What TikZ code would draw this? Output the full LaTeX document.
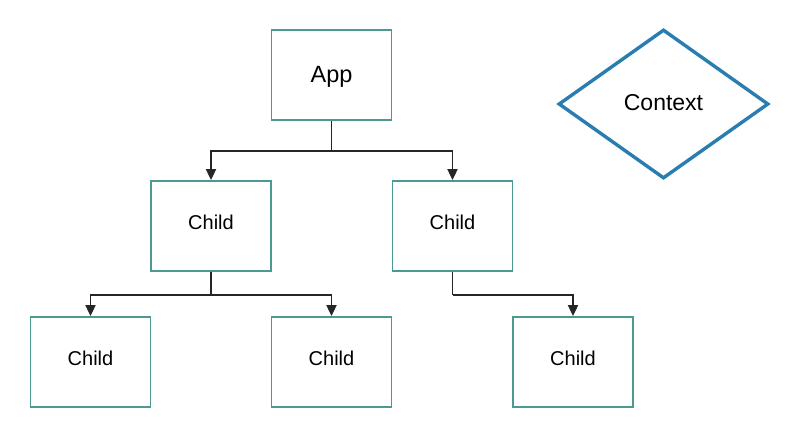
\documentclass[tikz,border=0pt]{standalone}
\usepackage{fontspec}
\setmainfont{Liberation Sans}
\usetikzlibrary{shapes.geometric,arrows.meta}
\definecolor{boxteal}{HTML}{4A9A92}
\definecolor{diablue}{HTML}{2A7DB0}
\begin{document}
\begin{tikzpicture}[x=1pt,y=-1pt,
  box/.style={draw=boxteal,line width=1.8pt,minimum width=120pt,minimum height=90pt,inner sep=0pt,fill=white},
  childtxt/.style={font=\fontsize{20}{22}\selectfont,text depth=8pt},
  conn/.style={draw=black!85,line width=1.8pt,-{Triangle[length=11pt,width=10pt]}},
  plain/.style={draw=black!85,line width=1.8pt}]
\useasboundingbox (0,0) rectangle (800,437);
\fill[white] (0,0) rectangle (800,437);
\node[box,font=\fontsize{23.5}{26}\selectfont,text depth=2pt] (app) at (331.5,75) {App};
\node[box,childtxt] (c1) at (211,226) {Child};
\node[box,childtxt] (c2) at (452.5,226) {Child};
\node[box,childtxt] (g1) at (90.5,362) {Child};
\node[box,childtxt] (g2) at (331.5,362) {Child};
\node[box,childtxt] (g3) at (573,362) {Child};
\node[draw=diablue,line width=3.4pt,diamond,aspect=1.4,minimum width=210pt,minimum height=149pt,inner sep=0pt,font=\fontsize{23}{25}\selectfont,text depth=4pt] (ctx) at (663.5,104) {Context};
\coordinate (j1) at (331.5,151);
\coordinate (j2) at (211,295);
\coordinate (j3) at (452.5,295);
\draw[plain] (app.south) -- (j1);
\draw[conn] (j1) -| (c1.north);
\draw[conn] (j1) -| (c2.north);
\draw[plain] (c1.south) -- (j2);
\draw[conn] (j2) -| (g1.north);
\draw[conn] (j2) -| (g2.north);
\draw[plain] (c2.south) -- (j3);
\draw[conn] (j3) -| (g3.north);
\end{tikzpicture}
\end{document}
